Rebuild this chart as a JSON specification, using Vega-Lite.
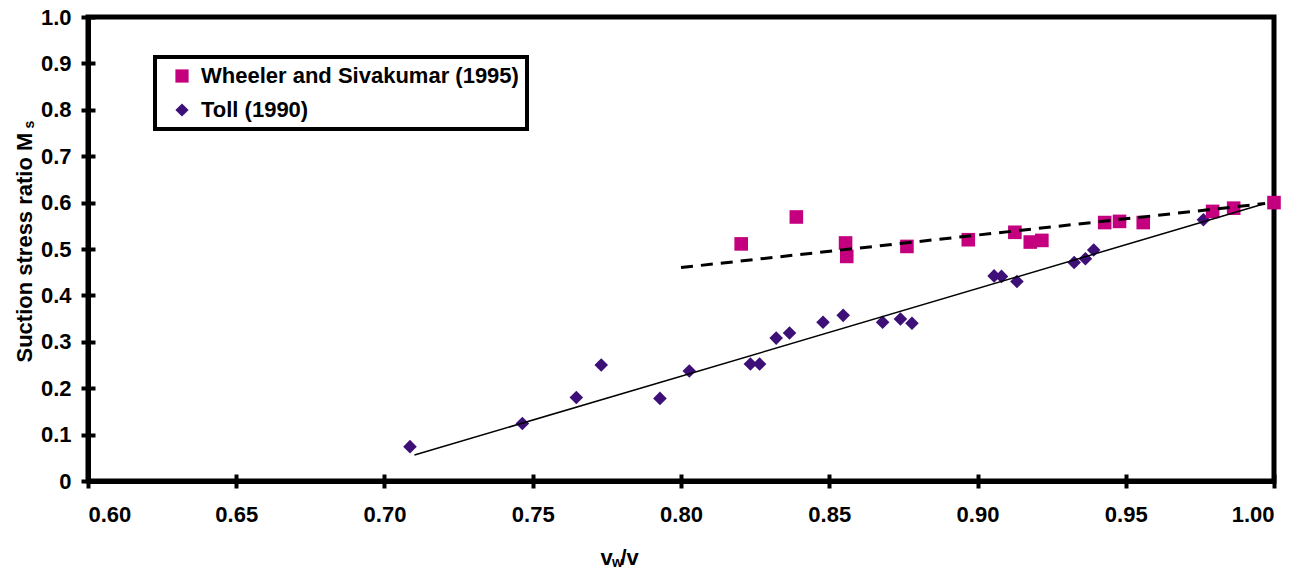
{
  "$schema": "https://vega.github.io/schema/vega-lite/v6.json",
  "width": 1186,
  "height": 464,
  "autosize": {"type": "none"},
  "padding": {"left": 88, "top": 17, "right": 29, "bottom": 87},
  "background": "white",
  "config": {
    "font": "Liberation Sans",
    "view": {"stroke": "black", "strokeWidth": 5},
    "axis": {
      "domainColor": "black",
      "domainWidth": 5,
      "tickColor": "black",
      "tickWidth": 4,
      "tickSize": 7,
      "grid": false,
      "labelFont": "Liberation Sans",
      "labelFontWeight": "bold",
      "labelFontSize": 22,
      "labelColor": "black",
      "titleFont": "Liberation Sans",
      "titleFontWeight": "bold",
      "titleFontSize": 22,
      "titleColor": "black"
    },
    "legend": {
      "labelFont": "Liberation Sans",
      "labelFontWeight": "bold",
      "labelFontSize": 22,
      "labelColor": "black",
      "labelLimit": 0,
      "strokeWidth": 4
    }
  },
  "datasets": {
    "points": [
      {"series": "Toll (1990)", "vw_v": 0.7086, "Ms": 0.074},
      {"series": "Toll (1990)", "vw_v": 0.7465, "Ms": 0.124},
      {"series": "Toll (1990)", "vw_v": 0.7647, "Ms": 0.180},
      {"series": "Toll (1990)", "vw_v": 0.7731, "Ms": 0.250},
      {"series": "Toll (1990)", "vw_v": 0.7929, "Ms": 0.178},
      {"series": "Toll (1990)", "vw_v": 0.8028, "Ms": 0.237},
      {"series": "Toll (1990)", "vw_v": 0.8234, "Ms": 0.252},
      {"series": "Toll (1990)", "vw_v": 0.8265, "Ms": 0.252},
      {"series": "Toll (1990)", "vw_v": 0.8321, "Ms": 0.308},
      {"series": "Toll (1990)", "vw_v": 0.8366, "Ms": 0.319},
      {"series": "Toll (1990)", "vw_v": 0.8479, "Ms": 0.342},
      {"series": "Toll (1990)", "vw_v": 0.8547, "Ms": 0.357},
      {"series": "Toll (1990)", "vw_v": 0.8680, "Ms": 0.342},
      {"series": "Toll (1990)", "vw_v": 0.8740, "Ms": 0.349},
      {"series": "Toll (1990)", "vw_v": 0.8779, "Ms": 0.340},
      {"series": "Toll (1990)", "vw_v": 0.9056, "Ms": 0.442},
      {"series": "Toll (1990)", "vw_v": 0.9081, "Ms": 0.441},
      {"series": "Toll (1990)", "vw_v": 0.9133, "Ms": 0.430},
      {"series": "Toll (1990)", "vw_v": 0.9326, "Ms": 0.471},
      {"series": "Toll (1990)", "vw_v": 0.9364, "Ms": 0.479},
      {"series": "Toll (1990)", "vw_v": 0.9392, "Ms": 0.498},
      {"series": "Toll (1990)", "vw_v": 0.9762, "Ms": 0.563},
      {"series": "Wheeler and Sivakumar (1995)", "vw_v": 0.8203, "Ms": 0.511},
      {"series": "Wheeler and Sivakumar (1995)", "vw_v": 0.8389, "Ms": 0.569},
      {"series": "Wheeler and Sivakumar (1995)", "vw_v": 0.8555, "Ms": 0.513},
      {"series": "Wheeler and Sivakumar (1995)", "vw_v": 0.8559, "Ms": 0.484},
      {"series": "Wheeler and Sivakumar (1995)", "vw_v": 0.8762, "Ms": 0.5055},
      {"series": "Wheeler and Sivakumar (1995)", "vw_v": 0.8969, "Ms": 0.520},
      {"series": "Wheeler and Sivakumar (1995)", "vw_v": 0.9126, "Ms": 0.536},
      {"series": "Wheeler and Sivakumar (1995)", "vw_v": 0.9178, "Ms": 0.515},
      {"series": "Wheeler and Sivakumar (1995)", "vw_v": 0.9217, "Ms": 0.5185},
      {"series": "Wheeler and Sivakumar (1995)", "vw_v": 0.9429, "Ms": 0.557},
      {"series": "Wheeler and Sivakumar (1995)", "vw_v": 0.9479, "Ms": 0.5595},
      {"series": "Wheeler and Sivakumar (1995)", "vw_v": 0.9559, "Ms": 0.557},
      {"series": "Wheeler and Sivakumar (1995)", "vw_v": 0.9793, "Ms": 0.581},
      {"series": "Wheeler and Sivakumar (1995)", "vw_v": 0.9864, "Ms": 0.588},
      {"series": "Wheeler and Sivakumar (1995)", "vw_v": 1.0, "Ms": 0.600}
    ],
    "tollFit": [
      {"vw_v": 0.7101, "Ms": 0.056},
      {"vw_v": 0.997, "Ms": 0.598}
    ],
    "wheelerFit": [
      {"vw_v": 0.800, "Ms": 0.460},
      {"vw_v": 0.997, "Ms": 0.598}
    ]
  },
  "layer": [
    {
      "data": {"name": "points"},
      "mark": {"type": "point", "filled": true, "opacity": 1, "size": 185, "strokeWidth": 0},
      "encoding": {
        "x": {
          "field": "vw_v", "type": "quantitative",
          "scale": {"domain": [0.6, 1.0], "nice": false, "zero": false},
          "axis": {
            "orient": "bottom",
            "values": [0.6, 0.65, 0.7, 0.75, 0.8, 0.85, 0.9, 0.95, 1.0],
            "format": ".2f",
            "labelPadding": 16,
            "title": "v",
            "titleX": 512, "titleY": 83,
            "titleAlign": "left", "titleBaseline": "alphabetic"
          }
        },
        "y": {
          "field": "Ms", "type": "quantitative",
          "scale": {"domain": [0, 1], "nice": false},
          "axis": {
            "orient": "left",
            "values": [0, 0.1, 0.2, 0.3, 0.4, 0.5, 0.6, 0.7, 0.8, 0.9, 1.0],
            "labelExpr": "datum.value == 0 ? '0' : format(datum.value, '.1f')",
            "labelPadding": 10,
            "title": "Suction stress ratio M",
            "titleX": -57, "titleY": 345,
            "titleAngle": -90,
            "titleAlign": "left", "titleBaseline": "alphabetic"
          }
        },
        "color": {
          "field": "series", "type": "nominal",
          "scale": {"domain": ["Wheeler and Sivakumar (1995)", "Toll (1990)"], "range": ["#C4007F", "#3D1078"]},
          "legend": {
            "title": null,
            "orient": "none",
            "legendX": 67,
            "legendY": 40,
            "fillColor": "white",
            "strokeColor": "black",
            "padding": 8,
            "symbolOffset": 8,
            "symbolSize": 175,
            "symbolStrokeWidth": 0,
            "labelOffset": 8,
            "labelLimit": 0,
            "rowPadding": 12
          }
        },
        "shape": {
          "field": "series", "type": "nominal",
          "scale": {"domain": ["Wheeler and Sivakumar (1995)", "Toll (1990)"], "range": ["square", "diamond"]}
        }
      }
    },
    {
      "data": {"name": "tollFit"},
      "mark": {"type": "line", "color": "black", "strokeWidth": 1.5},
      "encoding": {
        "x": {
          "field": "vw_v", "type": "quantitative",
          "scale": {"domain": [0.6, 1.0], "nice": false, "zero": false},
          "axis": {
            "orient": "bottom",
            "values": [0.6, 0.65, 0.7, 0.75, 0.8, 0.85, 0.9, 0.95, 1.0],
            "labels": false, "domain": false,
            "tickSize": -7,
            "title": "w",
            "titleFontSize": 14,
            "titleX": 523.5, "titleY": 85,
            "titleAlign": "left", "titleBaseline": "alphabetic"
          }
        },
        "y": {
          "field": "Ms", "type": "quantitative",
          "scale": {"domain": [0, 1], "nice": false},
          "axis": {
            "orient": "left",
            "values": [0, 0.1, 0.2, 0.3, 0.4, 0.5, 0.6, 0.7, 0.8, 0.9, 1.0],
            "labels": false, "domain": false,
            "tickSize": -7,
            "title": "s",
            "titleFontSize": 14,
            "titleX": -55, "titleY": 111,
            "titleAngle": -90,
            "titleAlign": "left", "titleBaseline": "alphabetic"
          }
        }
      }
    },
    {
      "data": {"name": "wheelerFit"},
      "mark": {"type": "line", "color": "black", "strokeWidth": 3, "strokeDash": [12, 8]},
      "encoding": {
        "x": {
          "field": "vw_v", "type": "quantitative",
          "scale": {"domain": [0.6, 1.0], "nice": false, "zero": false},
          "axis": {
            "orient": "bottom",
            "labels": false, "domain": false, "ticks": false,
            "title": "/v",
            "titleX": 532, "titleY": 83,
            "titleAlign": "left", "titleBaseline": "alphabetic"
          }
        },
        "y": {
          "field": "Ms", "type": "quantitative",
          "scale": {"domain": [0, 1], "nice": false},
          "axis": null
        }
      }
    }
  ],
  "resolve": {"axis": {"x": "independent", "y": "independent"}}
}
